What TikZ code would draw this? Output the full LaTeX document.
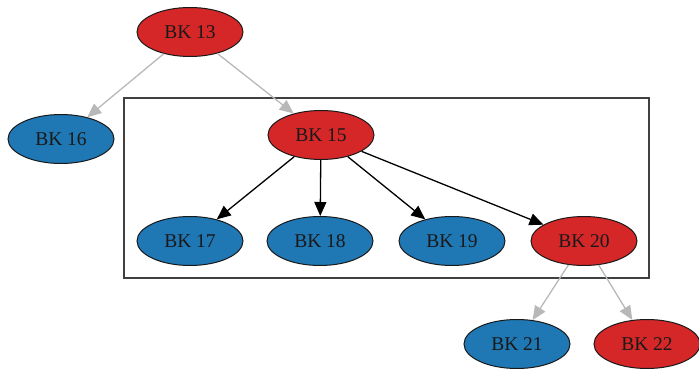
\documentclass[tikz,border=0pt]{standalone}
\usepackage{fontspec}
\setmainfont{Liberation Serif}
\usetikzlibrary{shapes.geometric, arrows.meta, positioning}

\definecolor{bkred}{HTML}{D62728}
\definecolor{bkblue}{HTML}{1F77B4}
\definecolor{bkgray}{HTML}{B8B8B8}

\tikzset{
	bk/.style={ellipse, draw=black!90, line width=1pt, minimum width=106pt, minimum height=49pt, inner sep=0pt, font=\fontsize{19.5}{20}\selectfont, text=black!90},
	bkr/.style={bk, fill=bkred},
	bkb/.style={bk, fill=bkblue},
	link/.style={-{Triangle[length=14pt,width=12pt]}, line width=1.3pt},
	linkgray/.style={link, draw=bkgray, -{Triangle[length=14pt,width=12pt,fill=bkgray]}},
}

\begin{document}
\begin{tikzpicture}[x=1pt, y=-1pt]
			\useasboundingbox (0,0) rectangle (699,371);
			% block frame
			\draw[line width=1.2pt, draw=black!75] (124,98) rectangle (649,278);
			\node[bkr] (bk13) at (190,32) {BK 13};
			\node[bkb] (bk16) at (61,139) {BK 16};
			\node[bkr] (bk15) at (321,135) {BK 15};
			\node[bkb] (bk17) at (190,241) {BK 17};
			\node[bkb] (bk18) at (320,241) {BK 18};
			\node[bkb] (bk19) at (452,241) {BK 19};
			\node[bkr] (bk20) at (584,241) {BK 20};
			\node[bkb] (bk21) at (517,344) {BK 21};
			\node[bkr] (bk22) at (647,344) {BK 22};
			% edges
			\draw[linkgray] (bk13) -- (bk16);
			\draw[linkgray] (bk13) -- (bk15);
			\draw[link] (bk15) -- (bk17);
			\draw[link] (bk15) -- (bk18);
			\draw[link] (bk15) -- (bk19);
			\draw[link] (bk15) -- (bk20);
			\draw[linkgray] (bk20) -- (bk21);
			\draw[linkgray] (bk20) -- (bk22);
\end{tikzpicture}
\end{document}
